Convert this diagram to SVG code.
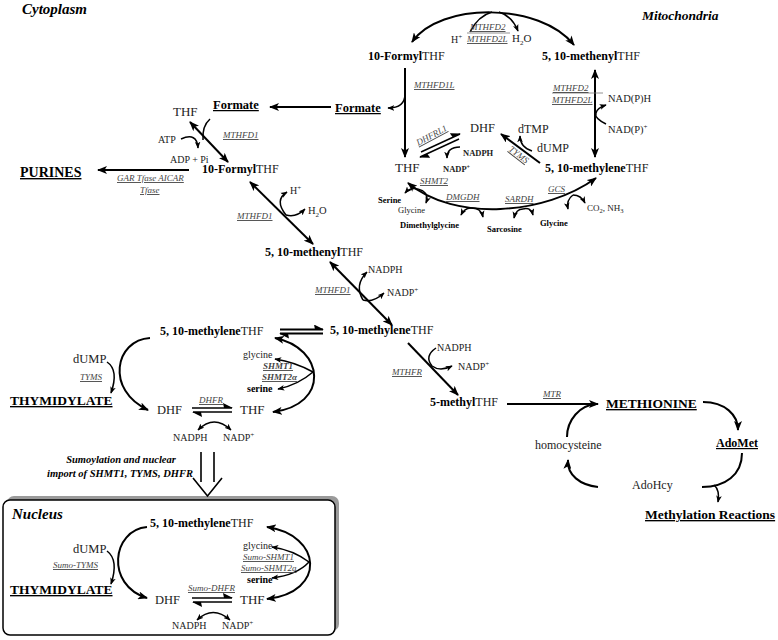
<svg xmlns="http://www.w3.org/2000/svg" width="778" height="640" viewBox="0 0 778 640" font-family="'Liberation Serif', 'DejaVu Serif', serif">
<defs>
<style>
text{font-family:'Liberation Serif','DejaVu Serif','Times New Roman',serif;fill:#222}
.b{font-weight:bold;fill:#000}
.bi{font-weight:bold;font-style:italic;fill:#000}
.u{text-decoration:underline}
.enz{font-style:italic;text-decoration:underline;font-size:9px;fill:#444}
.m{font-size:12px}
.ln{fill:none;stroke:#000;stroke-width:2}
.th{fill:none;stroke:#000;stroke-width:1.5}
</style>
<marker id="ah" viewBox="0 0 10 8" markerWidth="10" markerHeight="8" refX="9" refY="4" orient="auto-start-reverse" markerUnits="userSpaceOnUse"><path d="M0,0 L10,4 L0,8 L2.5,4 z" fill="#000"/></marker>
<marker id="as" viewBox="0 0 10 8" markerWidth="7" markerHeight="6" refX="9" refY="4" orient="auto-start-reverse" markerUnits="userSpaceOnUse"><path d="M0,0 L10,4 L0,8 L2.5,4 z" fill="#000"/></marker>
<marker id="hh" viewBox="0 0 10 6" markerWidth="10" markerHeight="6" refX="9" refY="5" orient="auto" markerUnits="userSpaceOnUse"><path d="M0,0 L10,5 L1,5 z" fill="#000"/></marker>
</defs>
<rect width="778" height="640" fill="#fff"/>

<!-- Compartment labels -->
<text x="22" y="14" class="bi" style="font-size:15px">Cytoplasm</text>
<text x="642" y="20" class="bi" style="font-size:13.5px">Mitochondria</text>

<!-- Nucleus box -->
<g id="nucleus-box">
<rect x="7" y="496" width="332" height="135" rx="7" fill="#9a9a9a"/>
<rect x="3" y="500" width="332" height="135" rx="7" fill="#fff" stroke="#000" stroke-width="1.5"/>
<text x="12" y="519" class="bi" style="font-size:15px">Nucleus</text>
</g>

<g id="connectors">
<!-- mitochondria -->
<path class="ln" d="M412,42 C440,2 540,2 574,45" marker-start="url(#ah)" marker-end="url(#ah)"/>
<path class="th" d="M470,32 Q478,16 492,12"/>
<path class="th" d="M499,12 Q512,16 518,31" marker-end="url(#as)"/>
<line x1="467" y1="33" x2="510" y2="33" stroke="#777" stroke-width="0.8"/>
<path class="ln" d="M405,68 V157" marker-end="url(#ah)"/>
<path class="th" d="M405,94 C405,104 399,108 388,108" marker-end="url(#as)"/>
<path class="ln" d="M331,107 H270" marker-end="url(#ah)"/>
<path class="ln" d="M595,70 V157" marker-start="url(#ah)" marker-end="url(#ah)"/>
<line x1="552" y1="93" x2="603" y2="93" stroke="#777" stroke-width="0.8"/>
<path class="th" d="M606,124 Q594,118 596,113 Q597,108 606,105" marker-end="url(#as)"/>
<path class="ln" d="M540,163 L501,134" marker-end="url(#ah)"/>
<path class="th" d="M532,151 Q520,147 520,136" marker-end="url(#as)"/>
<path class="th" d="M421,152 L460,134" marker-end="url(#hh)"/>
<path class="th" d="M459,139 L420,157" marker-end="url(#hh)"/>
<path class="th" d="M460,147 Q447,147 447,158" marker-end="url(#as)"/>
<path class="ln" d="M408,183 C455,222 545,215 596,178" marker-start="url(#ah)" marker-end="url(#ah)"/>
<path class="th" d="M423,191 Q412,185 405,193" marker-end="url(#as)"/>
<path class="th" d="M423,191 Q429,195 426,203" marker-end="url(#as)"/>
<path class="th" d="M472,208 Q465,207 461,215" marker-end="url(#as)"/>
<path class="th" d="M472,208 Q481,208 483,217" marker-end="url(#as)"/>
<path class="th" d="M523,209 Q516,209 514,218" marker-end="url(#as)"/>
<path class="th" d="M523,209 Q531,207 533,215" marker-end="url(#as)"/>
<path class="th" d="M573,195 Q566,200 568,209" marker-end="url(#as)"/>
<path class="th" d="M573,195 Q581,195 585,203" marker-end="url(#as)"/>

<!-- cytoplasm upper -->
<path class="ln" d="M190,122 L228,162" marker-start="url(#ah)" marker-end="url(#ah)"/>
<path class="th" d="M210,119 Q202,126 203,140"/>
<path class="th" d="M181,139 Q197,132 198,148" marker-end="url(#as)"/>
<path class="ln" d="M189,170 H98" marker-end="url(#ah)"/>
<path class="ln" d="M250,182 L313,244" marker-start="url(#ah)" marker-end="url(#ah)"/>
<path class="th" d="M286,215 Q274,200 287,192" marker-end="url(#as)"/>
<path class="th" d="M286,215 Q296,218 305,209" marker-end="url(#as)"/>
<path class="ln" d="M330,262 L392,325" marker-start="url(#ah)" marker-end="url(#ah)"/>
<path class="th" d="M363,300 Q354,285 367,272" marker-end="url(#as)"/>
<path class="th" d="M363,300 Q373,303 384,293" marker-end="url(#as)"/>
<path class="ln" d="M280,329.5 H323" marker-end="url(#hh)"/>
<path class="ln" d="M323,333.5 H280" marker-end="url(#hh)"/>

<!-- cytoplasm thymidylate cycle -->
<path class="ln" d="M150,338 C115,340 105,390 148,410" marker-end="url(#ah)"/>
<path class="th" d="M107,362 Q119,370 111,393" marker-end="url(#as)"/>
<path class="th" d="M192,408 H232" marker-end="url(#hh)"/>
<path class="th" d="M232,412 H193" marker-end="url(#hh)"/>
<path class="th" d="M198,430 Q214,414 231,430" marker-start="url(#as)" marker-end="url(#as)"/>
<path class="ln" d="M275,338 C325,348 330,405 273,412" marker-start="url(#ah)" marker-end="url(#ah)"/>
<path class="th" d="M313,372 Q295,362 275,359" marker-end="url(#as)"/>
<path class="th" d="M313,372 Q298,385 278,389" marker-end="url(#as)"/>

<!-- nuclear import arrow -->
<path fill="none" stroke="#000" stroke-width="1.6" d="M201,452 V482 M214,452 V482 M193,478 L207.5,496 L222,478"/>

<!-- nucleus -->
<path class="ln" d="M147,527 C112,530 105,585 147,598" marker-end="url(#ah)"/>
<path class="th" d="M107,551 Q119,560 111,584" marker-end="url(#as)"/>
<path class="th" d="M192,598 H232" marker-end="url(#hh)"/>
<path class="th" d="M232,602 H193" marker-end="url(#hh)"/>
<path class="th" d="M197,620 Q213,605 230,620" marker-start="url(#as)" marker-end="url(#as)"/>
<path class="ln" d="M267,527 C322,535 327,592 267,599" marker-start="url(#ah)" marker-end="url(#ah)"/>
<path class="th" d="M309,562 Q293,550 272,547" marker-end="url(#as)"/>
<path class="th" d="M309,562 Q297,575 272,578" marker-end="url(#as)"/>

<!-- methionine cycle -->
<path class="ln" d="M408,343 L458,395" marker-end="url(#ah)"/>
<path class="th" d="M436,348 Q424,356 432,366 Q440,372 452,366" marker-end="url(#as)"/>
<path class="ln" d="M507,404 H598" marker-end="url(#ah)"/>
<path class="ln" d="M703,402 C725,402 738,415 738,430" marker-end="url(#ah)"/>
<path class="ln" d="M742,453 C742,475 725,487 702,487"/>
<path class="th" d="M714,485 Q720,490 718,502" marker-end="url(#as)"/>
<path class="ln" d="M598,487 C580,485 567,475 568,460" marker-end="url(#ah)"/>
<path class="ln" d="M567,437 C567,420 580,405 596,404"/>
</g>

<!-- Mitochondria nodes -->
<g id="mito-formylTHF"><text x="368" y="60" class="m"><tspan class="b">10-Formyl</tspan>THF</text></g>
<g id="mito-methenylTHF"><text x="542" y="60" class="m"><tspan class="b">5, 10-methenyl</tspan>THF</text></g>
<g id="mito-top-labels">
<text x="470" y="30" class="enz">MTHFD2</text>
<text x="467" y="42" class="enz">MTHFD2L</text>
<text x="451" y="43" style="font-size:10px">H<tspan dy="-4" style="font-size:7px">+</tspan></text>
<text x="512" y="42" style="font-size:11px">H<tspan dy="3" style="font-size:7px">2</tspan><tspan dy="-3">O</tspan></text>
</g>
<g id="mito-formate"><text x="335" y="112" class="b u" style="font-size:12.5px">Formate</text><text x="414" y="88" class="enz">MTHFD1L</text></g>
<g id="mito-nadph-labels">
<text x="553" y="91" class="enz">MTHFD2</text>
<text x="552" y="103" class="enz">MTHFD2L</text>
<text x="608" y="102" style="font-size:10.5px">NAD(P)H</text>
<text x="608" y="133" style="font-size:10.5px">NAD(P)<tspan dy="-4" style="font-size:7px">+</tspan></text>
</g>
<g id="mito-methyleneTHF"><text x="545" y="172" class="m"><tspan class="b">5, 10-methylene</tspan>THF</text></g>
<g id="mito-DHF">
<text x="470" y="132" style="font-size:12.5px">DHF</text>
<text x="518" y="133" style="font-size:12px">dTMP</text>
<text x="537" y="152" style="font-size:12px">dUMP</text>
<text x="0" y="0" class="enz" text-anchor="middle" transform="translate(517,157) rotate(38)">TYMS</text>
<text x="0" y="0" class="enz" text-anchor="middle" transform="translate(433,138) rotate(-28)">DHFRL1</text>
<text x="463" y="156" style="font-size:8.5px;font-weight:bold">NADPH</text>
<text x="443" y="172" style="font-size:8.5px;font-weight:bold">NADP<tspan dy="-3" style="font-size:6px">+</tspan></text>
</g>
<g id="mito-THF"><text x="395" y="172" style="font-size:13px">THF</text></g>
<g id="mito-cycle-labels">
<text x="420" y="184" class="enz">SHMT2</text>
<text x="378" y="203" class="b" style="font-size:8.5px">Serine</text>
<text x="398" y="213" style="font-size:8.5px">Glycine</text>
<text x="446" y="200" class="enz">DMGDH</text>
<text x="400" y="228" class="b" style="font-size:8.5px">Dimethylglycine</text>
<text x="505" y="202" class="enz">SARDH</text>
<text x="487" y="232" class="b" style="font-size:8.5px">Sarcosine</text>
<text x="548" y="192" class="enz">GCS</text>
<text x="540" y="226" class="b" style="font-size:8.5px">Glycine</text>
<text x="587" y="211" style="font-size:9px">CO<tspan dy="2" style="font-size:6.5px">2</tspan><tspan dy="-2">, NH</tspan><tspan dy="2" style="font-size:6.5px">3</tspan></text>
</g>

<!-- Cytoplasm nodes -->
<g id="cyto-formate">
<text x="213" y="109" class="b u" style="font-size:12.5px">Formate</text>
<text x="173" y="116" style="font-size:13px">THF</text>
<text x="158" y="143" style="font-size:10px">ATP</text>
<text x="170" y="163" style="font-size:10px">ADP + Pi</text>
<text x="223" y="138" class="enz">MTHFD1</text>
</g>
<g id="purines">
<text x="20" y="177" class="b u" style="font-size:14px">PURINES</text>
<text x="117" y="181" class="enz">GAR Tfase AICAR</text>
<text x="140" y="193" class="enz">Tfase</text>
</g>
<g id="cyto-formylTHF"><text x="202" y="173" class="m"><tspan class="b">10-Formyl</tspan>THF</text></g>
<g id="cyto-mthfd1-a">
<text x="290" y="194" style="font-size:10px">H<tspan dy="-4" style="font-size:7px">+</tspan></text>
<text x="308" y="214" style="font-size:10.5px">H<tspan dy="3" style="font-size:7px">2</tspan><tspan dy="-3">O</tspan></text>
<text x="237" y="219" class="enz">MTHFD1</text>
</g>
<g id="cyto-methenylTHF"><text x="265" y="256" class="m"><tspan class="b">5, 10-methenyl</tspan>THF</text></g>
<g id="cyto-mthfd1-b">
<text x="368" y="273" style="font-size:10px">NADPH</text>
<text x="387" y="296" style="font-size:10px">NADP<tspan dy="-4" style="font-size:7px">+</tspan></text>
<text x="315" y="293" class="enz">MTHFD1</text>
</g>
<g id="cyto-methyleneTHF-right"><text x="330" y="334" class="m"><tspan class="b">5, 10-methylene</tspan>THF</text></g>
<g id="cyto-methyleneTHF-left"><text x="160" y="335" class="m"><tspan class="b">5, 10-methylene</tspan>THF</text></g>
<g id="cyto-thymidylate">
<text x="73" y="363" style="font-size:12.5px">dUMP</text>
<text x="80" y="380" class="enz">TYMS</text>
<text x="10" y="405" class="b u" style="font-size:13.5px">THYMIDYLATE</text>
</g>
<g id="cyto-DHF"><text x="157" y="414" style="font-size:12.5px">DHF</text><text x="199" y="403" class="enz">DHFR</text></g>
<g id="cyto-THF"><text x="240" y="414" style="font-size:13px">THF</text></g>
<g id="cyto-nadph">
<text x="173" y="441" style="font-size:10px">NADPH</text>
<text x="223" y="441" style="font-size:10px">NADP<tspan dy="-4" style="font-size:7px">+</tspan></text>
</g>
<g id="cyto-shmt1">
<text x="243" y="358" style="font-size:10px">glycine</text>
<text x="263" y="369" class="enz" style="font-weight:bold">SHMT1</text>
<text x="262" y="380" class="enz" style="font-weight:bold">SHMT2α</text>
<text x="247" y="392" class="b" style="font-size:10px">serine</text>
</g>
<g id="nuclear-import">
<text x="121" y="463" class="bi" text-anchor="middle" style="font-size:10.5px">Sumoylation and nuclear</text>
<text x="120" y="477" class="bi" text-anchor="middle" style="font-size:10.5px">import of SHMT1, TYMS, DHFR</text>
</g>

<!-- Nucleus nodes -->
<g id="nuc-methyleneTHF"><text x="150" y="527" class="m"><tspan class="b">5, 10-methylene</tspan>THF</text></g>
<g id="nuc-thymidylate">
<text x="73" y="553" style="font-size:12.5px">dUMP</text>
<text x="53" y="568" class="enz">Sumo-TYMS</text>
<text x="10" y="594" class="b u" style="font-size:13.5px">THYMIDYLATE</text>
</g>
<g id="nuc-DHF"><text x="155" y="604" style="font-size:12.5px">DHF</text><text x="188" y="591" class="enz">Sumo-DHFR</text></g>
<g id="nuc-THF"><text x="240" y="604" style="font-size:13px">THF</text></g>
<g id="nuc-nadph">
<text x="172" y="629" style="font-size:10px">NADPH</text>
<text x="222" y="629" style="font-size:10px">NADP<tspan dy="-4" style="font-size:7px">+</tspan></text>
</g>
<g id="nuc-shmt">
<text x="243" y="549" style="font-size:10px">glycine</text>
<text x="243" y="560" class="enz">Sumo-SHMT1</text>
<text x="241" y="571" class="enz">Sumo-SHMT2a</text>
<text x="247" y="583" class="b" style="font-size:10px">serine</text>
</g>

<!-- Methionine cycle -->
<g id="mthfr">
<text x="437" y="351" style="font-size:10px">NADPH</text>
<text x="458" y="370" style="font-size:10px">NADP<tspan dy="-4" style="font-size:7px">+</tspan></text>
<text x="392" y="375" class="enz">MTHFR</text>
</g>
<g id="methylTHF"><text x="430" y="406" class="m"><tspan class="b">5-methyl</tspan>THF</text></g>
<g id="mtr"><text x="543" y="397" class="enz">MTR</text></g>
<g id="methionine"><text x="606" y="408" class="b u" style="font-size:13.5px">METHIONINE</text></g>
<g id="adomet"><text x="716" y="447" class="b u" style="font-size:12px">AdoMet</text></g>
<g id="adohcy"><text x="632" y="489" style="font-size:12px">AdoHcy</text></g>
<g id="homocysteine"><text x="535" y="449" style="font-size:12px">homocysteine</text></g>
<g id="methylation"><text x="645" y="519" class="b u" style="font-size:13.5px">Methylation Reactions</text></g>
</svg>
